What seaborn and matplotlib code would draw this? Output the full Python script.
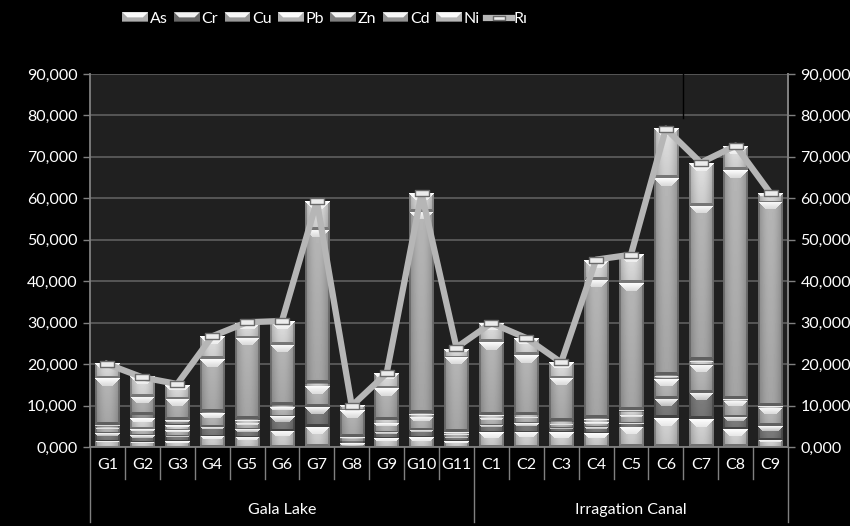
import numpy as np
import matplotlib
matplotlib.use("Agg")
import matplotlib.pyplot as plt
import seaborn as sns
from matplotlib.path import Path
from matplotlib.patches import Rectangle, Polygon
from matplotlib.lines import Line2D
from matplotlib.legend_handler import HandlerBase
from matplotlib.ticker import FuncFormatter, MultipleLocator

# ---------------- data ----------------
sites = ["G1", "G2", "G3", "G4", "G5", "G6", "G7", "G8", "G9", "G10", "G11",
         "C1", "C2", "C3", "C4", "C5", "C6", "C7", "C8", "C9"]
group_names = ["Gala Lake", "Irragation Canal"]
group_sizes = [11, 9]
metals = ["As", "Cr", "Cu", "Pb", "Zn", "Cd", "Ni"]

As = [1.5, 1.3, 1.4, 2.7, 2.5, 3.9, 4.9, 0.9, 2.1, 2.3, 1.4,
      3.5, 3.7, 3.5, 3.3, 4.9, 6.9, 6.7, 4.3, 1.8]
Cr = [1.8, 1.6, 1.3, 2.2, 1.8, 3.6, 4.7, 0.6, 1.6, 1.8, 1.1,
      1.8, 2.0, 1.0, 1.6, 0.8, 4.8, 6.3, 3.0, 3.2]
Cu = [1.3, 1.4, 1.4, 3.2, 1.6, 2.1, 5.0, 0.5, 2.0, 3.2, 0.6,
      1.8, 1.5, 1.1, 1.2, 2.0, 4.6, 6.8, 3.9, 4.4]
Pb = [0.3, 2.6, 1.2, 0.2, 0.6, 0.4, 0.7, 0.3, 0.8, 0.6, 0.4,
      0.6, 0.5, 0.5, 0.7, 0.8, 0.9, 1.0, 0.3, 0.4]
Zn = [0.4, 0.8, 1.2, 0.2, 0.2, 0.1, 0.1, 0.2, 0.1, 0.2, 0.2,
      0.1, 0.1, 0.1, 0.1, 0.4, 0.2, 0.2, 0.2, 0.1]
Cd = [11.3, 4.4, 5.2, 12.7, 19.7, 14.5, 37.0, 6.4, 7.6, 48.7, 18.1,
      17.6, 14.4, 10.4, 33.4, 30.6, 47.4, 37.2, 55.2, 49.3]
Ni = [3.4, 4.9, 3.3, 5.4, 3.6, 5.6, 6.8, 1.0, 3.6, 4.4, 1.8,
      4.4, 4.0, 3.8, 4.8, 6.8, 11.9, 10.3, 5.7, 2.0]
Ri = [20.0, 16.8, 15.2, 26.7, 30.1, 30.4, 59.3, 9.9, 17.8, 61.2, 24.0,
      29.9, 26.3, 20.4, 45.2, 46.4, 76.8, 68.6, 72.7, 61.2]

series = {"As": As, "Cr": Cr, "Cu": Cu, "Pb": Pb, "Zn": Zn, "Cd": Cd, "Ni": Ni}
greys = {"As": 0.80, "Cr": 0.48, "Cu": 0.70, "Pb": 0.82, "Zn": 0.58, "Cd": 0.68, "Ni": 0.84}

# ---------------- style ----------------
plt.rcParams["font.family"] = ["Lato", "DejaVu Sans"]
W, H, DPI = 850, 526, 100
fig = plt.figure(figsize=(W / DPI, H / DPI), dpi=DPI, facecolor="black")

L, R, T, B = 90, 788, 74, 447
ax = fig.add_axes([L / W, 1 - B / H, (R - L) / W, (B - T) / H])
ax.set_facecolor("#202020")
px_cat = (R - L) / len(sites)
px_unit = (B - T) / 90.0
FS = 11.5


def bevel_image(c, w_px, h_px):
    nx = max(int(round(w_px)), 4)
    ny = max(int(round(h_px)), 2)
    J, I = np.meshgrid(np.arange(nx) + 0.5, np.arange(ny) + 0.5)
    u = J / nx
    img = c * (0.80 + 0.25 * np.sin(np.pi * u))
    img = img * (1.0 - 0.10 * I / ny)
    dl, dr, dt, db = J, nx - J, I, ny - I
    bt = min(8.0, 0.38 * ny)
    bb = min(3.5, 0.15 * ny)
    bs = min(2.5, 0.12 * nx)
    top = (dt < bt) & (dt <= dl + 0.5) & (dt <= dr + 0.5)
    topval = np.clip(c + (1 - c) * (0.97 - 0.45 * dt / max(bt, 1e-6)), 0, 1)
    img = np.where(top, topval, img)
    bot = (db < bb) & (db <= dl + 0.5) & (db <= dr + 0.5) & ~top
    img = np.where(bot, c * 0.55, img)
    side = ((dl < bs) | (dr < bs)) & ~top & ~bot
    img = np.where(side, img * 0.78, img)
    return np.clip(img, 0, 1)


bottoms = np.zeros(len(sites))
for name in metals:
    vals = np.array(series[name], dtype=float)
    c = greys[name]
    n0 = len(ax.patches)
    sns.barplot(x=sites, y=vals, order=sites, bottom=bottoms, color=(c, c, c),
                width=0.7, errorbar=None, linewidth=0, ax=ax, zorder=2)
    for p in ax.patches[n0:]:
        x0, y0, w, h = p.get_x(), p.get_y(), p.get_width(), p.get_height()
        img = bevel_image(c, w * px_cat, h * px_unit)
        ax.imshow(img, cmap="gray", vmin=0, vmax=1, extent=(x0, x0 + w, y0, y0 + h),
                  aspect="auto", interpolation="nearest", origin="upper", zorder=2.5)
    bottoms = bottoms + vals

# Ri line
rect_marker = Path([(-1, -0.42), (1, -0.42), (1, 0.42), (-1, 0.42), (-1, -0.42)],
                   [Path.MOVETO, Path.LINETO, Path.LINETO, Path.LINETO, Path.CLOSEPOLY])
line_col = "#b6b6b6"
sns.pointplot(x=sites, y=Ri, order=sites, color=line_col, errorbar=None, ax=ax,
              marker=rect_marker, markersize=10, markerfacecolor="#ececec",
              markeredgecolor="#6a6a6a", markeredgewidth=1.0, linewidth=4.5, zorder=5)

ax.set_xlim(-0.5, len(sites) - 0.5)
ax.set_ylim(0, 90)
ax.yaxis.set_major_locator(MultipleLocator(10))
fmt = FuncFormatter(lambda v, p: f"{v:.3f}".replace(".", ","))
ax.yaxis.set_major_formatter(fmt)
ax.yaxis.grid(True, color="#5a5a5a", lw=1.3)
ax.xaxis.grid(False)
ax.set_axisbelow(True)
ax.set_xlabel("")
ax.set_ylabel("")
ax.set_xticks([])

# thin dark divider visible at the top of the plot area in the reference
ax.axvline(16.5, ymin=0.882, ymax=1.0, color="black", lw=1.0, zorder=1.5)

ax.spines["top"].set_visible(False)
for s in ["left", "right", "bottom"]:
    ax.spines[s].set_color("#808080")
    ax.spines[s].set_linewidth(1.3)
ax.tick_params(axis="y", colors="#808080", labelcolor="white", labelsize=FS,
               length=5, width=1.0, direction="out", pad=4)

ax2 = ax.twinx()
ax2.set_ylim(0, 90)
ax2.yaxis.set_major_locator(MultipleLocator(10))
ax2.yaxis.set_major_formatter(fmt)
ax2.tick_params(axis="y", colors="#808080", labelcolor="white", labelsize=FS,
                length=5, width=1.0, direction="out", pad=4)
for s in ax2.spines.values():
    s.set_visible(False)
ax2.spines["right"].set_visible(True)
ax2.spines["right"].set_color("#808080")
ax2.spines["right"].set_linewidth(1.3)

# category labels and separators
tr = ax.get_xaxis_transform()
sep_col = "#808080"
for i, s in enumerate(sites):
    ax.text(i, -0.048, s, transform=tr, ha="center", va="center", color="white",
            fontsize=FS, clip_on=False)
group_edges = np.cumsum([0] + group_sizes) - 0.5
for i in range(len(sites) + 1):
    xb = i - 0.5
    long = np.any(np.isclose(group_edges, xb))
    ax.plot([xb, xb], [0, -0.2 if long else -0.085], transform=tr, color=sep_col,
            lw=1.0, clip_on=False)
for g, a, b in zip(group_names, group_edges[:-1], group_edges[1:]):
    ax.text((a + b) / 2, -0.168, g, transform=tr, ha="center", va="center",
            color="white", fontsize=FS, clip_on=False)


# legend
class BevelHandler(HandlerBase):
    def __init__(self, c):
        super().__init__()
        self.c = c

    def create_artists(self, legend, orig_handle, xdescent, ydescent, width,
                       height, fontsize, trans):
        c = self.c
        x0, y0 = -xdescent, -ydescent
        body = Rectangle((x0, y0), width, height, facecolor=(c * 0.85,) * 3,
                         edgecolor="none", transform=trans)
        th = height * 0.5
        hi = min(1.0, c + (1 - c) * 0.9)
        bev = Polygon([(x0, y0 + height), (x0 + width, y0 + height),
                       (x0 + width - th, y0 + height - th), (x0 + th, y0 + height - th)],
                      closed=True, facecolor=(hi,) * 3, edgecolor="none", transform=trans)
        bot = Rectangle((x0, y0), width, height * 0.14, facecolor=(c * 0.55,) * 3,
                        edgecolor="none", transform=trans)
        return [body, bev, bot]


handles, labels, hmap = [], [], {}
for name in metals:
    h = Rectangle((0, 0), 1, 1)
    handles.append(h)
    labels.append(name)
    hmap[h] = BevelHandler(greys[name])
lh = Line2D([], [], color=line_col, lw=4.5, marker=rect_marker, markersize=8,
            markerfacecolor="#ececec", markeredgecolor="#6a6a6a", markeredgewidth=1.0)
handles.append(lh)
labels.append("Rı")

leg = fig.legend(handles, labels, handler_map=hmap, loc="center",
                 bbox_to_anchor=(325 / W, 1 - 19 / H), ncol=8, frameon=False,
                 fontsize=FS, handlelength=1.6, handleheight=0.6, handletextpad=0.12,
                 columnspacing=0.4, labelcolor="white")

fig.savefig("out.png", dpi=DPI, facecolor="black")
